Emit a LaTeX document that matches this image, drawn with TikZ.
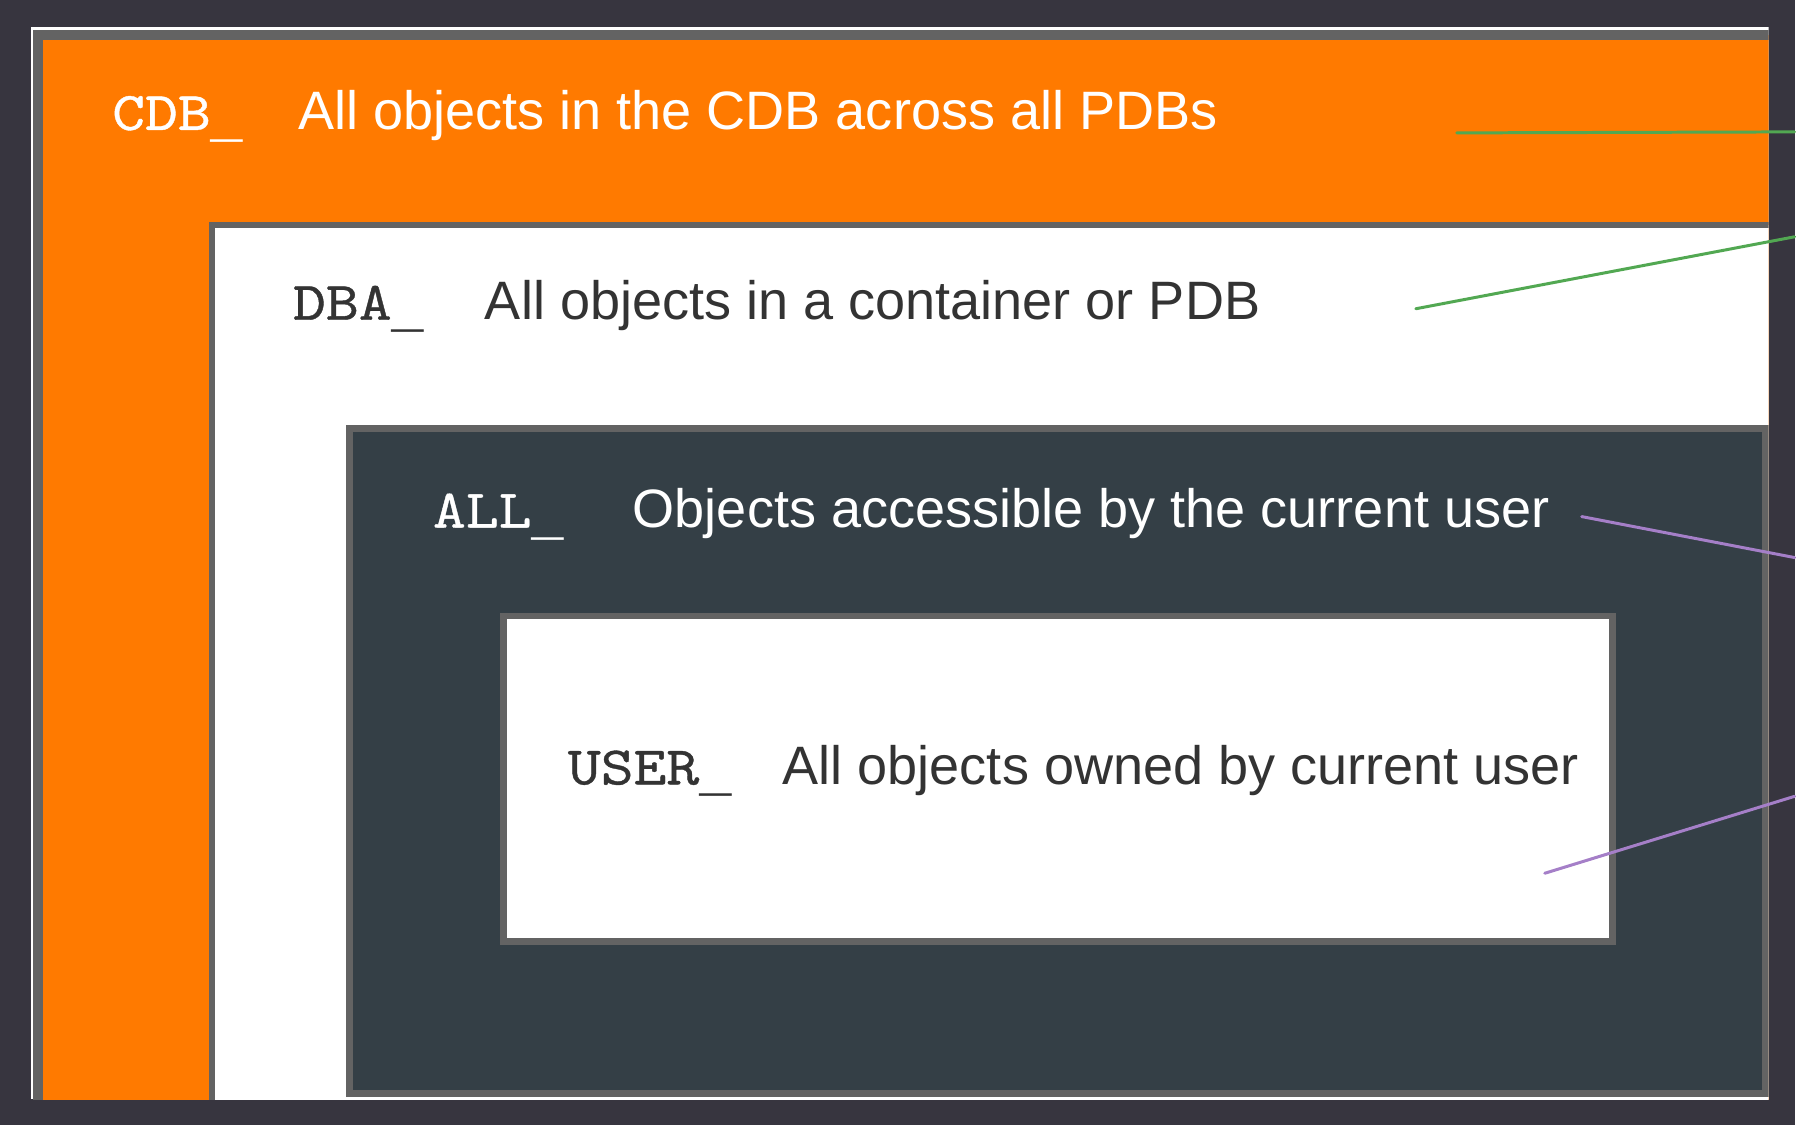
\documentclass[tikz,border=0pt]{standalone}
\usepackage{fontspec}
\usepackage{tikz}
\setmainfont{Liberation Sans}
\newfontfamily\codefont[Extension = .otf, FakeStretch = 1.15, FakeBold = 0.7]{lmmono10-regular}
\newfontfamily\barfont{Liberation Mono}
\definecolor{bgdark}{HTML}{37353F}
\definecolor{cdborange}{HTML}{FF7A00}
\definecolor{framegray}{HTML}{636363}
\definecolor{alldark}{HTML}{343F46}
\definecolor{textdark}{HTML}{333333}
\definecolor{linegreen}{HTML}{52A852}
\definecolor{linepurple}{HTML}{A57FC8}
\newcommand{\lowbar}{\raisebox{-0.12em}{\barfont\_}}
\tikzset{boxframe/.style = {draw = framegray, line width = #1},
         boxframe/.default = 3.97pt}
\tikzset{codelabel/.style = {anchor = base west, inner sep = 0,
                             font = \codefont\fontsize{31}{36}\selectfont}}
\tikzset{desclabel/.style = {anchor = base west, inner sep = 0,
                             font = \fontsize{30.8}{36}\selectfont}}
\tikzset{pointer/.style = {line width = 1.7pt, line cap = round}}

\begin{document}
\begin{tikzpicture}[x = 0.02cm, y = -0.02cm]
    \fill [bgdark] (0, 0) rectangle (1796, 1126);
    \begin{scope}
      \clip (31, 27) rectangle (1770, 1100);
      \fill [white] (31, 27) rectangle (1770, 1100);
      \draw [boxframe = 5.67pt, fill = cdborange] (38, 35) rectangle (1900, 1200);
      \draw [boxframe = 3.4pt, fill = white] (212, 225) rectangle (1900, 1200);
      \draw [boxframe, fill = alldark] (349.5, 429) rectangle (1766.5, 1094);
      \draw [boxframe, fill = white] (503.5, 616.5) rectangle (1613.5, 942.5);
    \end{scope}
    % labels
    \node [codelabel, text = white] (cdbpre) at (112, 130) {CDB\lowbar};
    \node [desclabel, text = white] (cdbtext) at (298, 130) {All objects in the CDB across all PDBs};
    \node [codelabel, text = textdark] (dbapre) at (293, 320) {DBA\lowbar};
    \node [desclabel, text = textdark] (dbatext) at (485, 320) {All objects in a container or PDB};
    \node [codelabel, text = white] (allpre) at (433, 528) {ALL\lowbar};
    \node [desclabel, text = white] (alltext) at (633, 528) {Objects accessible by the current user};
    \node [codelabel, text = textdark] (userpre) at (568, 785) {USER\lowbar};
    \node [desclabel, text = textdark] (usertext) at (783, 785) {All objects owned by current user};
    % pointers
    \coordinate (cdbtip) at (1458, 133);
    \coordinate (cdbend) at (1796, 132);
    \coordinate (dbatip) at (1417, 309);
    \coordinate (dbaend) at (1796, 237);
    \coordinate (alltip) at (1583, 517);
    \coordinate (allend) at (1796, 558);
    \coordinate (usertip) at (1546, 874);
    \coordinate (userend) at (1796, 797);
    \draw [pointer, linegreen] (cdbtip) -- (cdbend);
    \draw [pointer, linegreen] (dbatip) -- (dbaend);
    \draw [pointer, linepurple] (alltip) -- (allend);
    \draw [pointer, linepurple] (usertip) -- (userend);
  \end{tikzpicture}
\end{document}
